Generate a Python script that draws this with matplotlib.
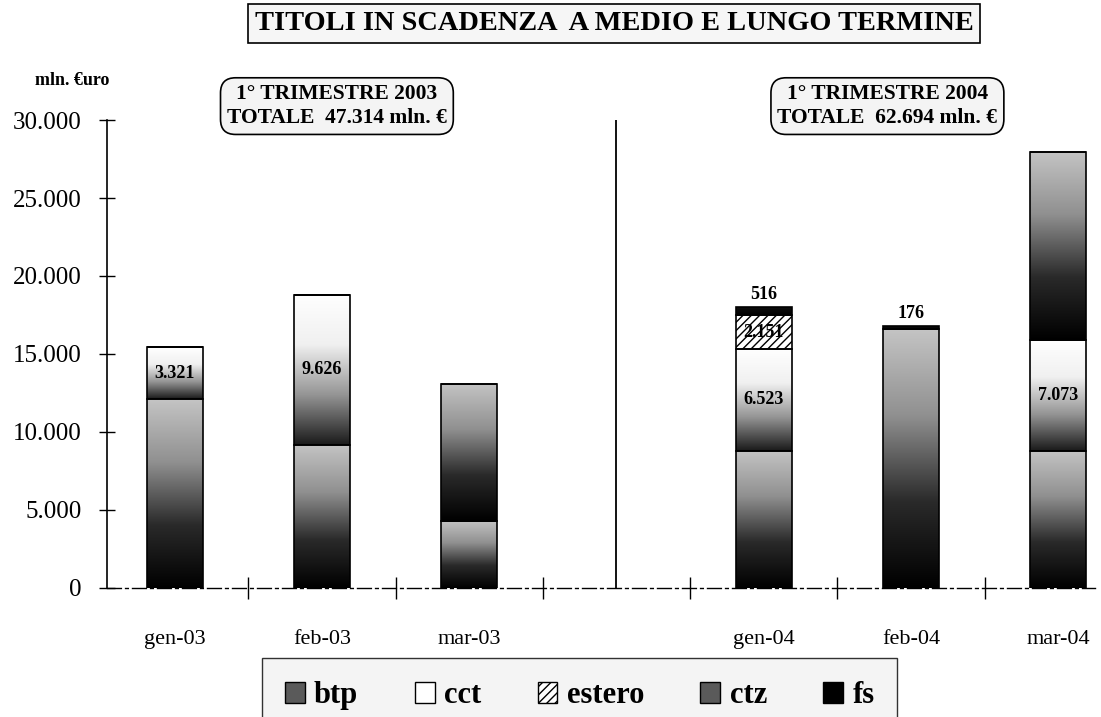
import numpy as np
import matplotlib
matplotlib.use("Agg")
import matplotlib.pyplot as plt
from matplotlib.colors import LinearSegmentedColormap
from matplotlib.patches import Patch

plt.rcParams["font.family"] = ["Liberation Serif", "DejaVu Serif"]

# dati (mln. euro)
pos = [0, 1, 2, 4, 5, 6]
mesi_bar = ["gen-03", "feb-03", "mar-03", "gen-04", "feb-04", "mar-04"]
btp = [12100, 9180, 4300, 8800, 16600, 8800]
cct = [3321, 9626, 0, 6523, 0, 7073]
estero = [0, 0, 0, 2151, 0, 0]
ctz = [0, 0, 8787, 0, 0, 12055]
fs = [0, 0, 0, 516, 176, 0]

serie = ["btp", "cct", "estero", "ctz", "fs"]
valori = [btp, cct, estero, ctz, fs]
etichette = {"cct": [0, 1, 3, 5], "estero": [3]}   # etichette dentro la barra
sopra = {"fs": [3, 4]}                               # etichette sopra la barra

totale_03 = "47.314"
totale_04 = "62.694"

cmap_btp = LinearSegmentedColormap.from_list("btp", ["#c4c4c4", "#909090", "#2a2a2a", "#000000"])
cmap_cct = LinearSegmentedColormap.from_list("cct", ["#ffffff", "#f0f0f0", "#959595", "#1a1a1a"])
cmap_fs = LinearSegmentedColormap.from_list("fs", ["#101010", "#000000"])
mappe = {"btp": cmap_btp, "cct": cmap_cct, "ctz": cmap_btp, "fs": cmap_fs}


def fmt(v):
    return f"{v:,}".replace(",", ".")


fig = plt.figure(figsize=(11.01, 7.17), dpi=100)
ax = fig.add_axes([0.0972, 0.180, 0.8974, 0.6526])

w = 0.38
grad = np.linspace(0, 1, 256).reshape(-1, 1)
base = np.zeros(len(pos))
for nome, vals in zip(serie, valori):
    vals = np.array(vals, dtype=float)
    if nome == "estero":
        bars = ax.bar(pos, vals, w, bottom=base, color="white", edgecolor="black",
                      hatch="////", linewidth=1.2, zorder=2)
    else:
        bars = ax.bar(pos, vals, w, bottom=base, color="none", edgecolor="black",
                      linewidth=1.2, zorder=3)
        for b, v in zip(bars, vals):
            if v <= 0:
                continue
            x0, y0 = b.get_x(), b.get_y()
            im = ax.imshow(grad, cmap=mappe[nome], aspect="auto", zorder=2,
                           extent=[x0, x0 + b.get_width(), y0, y0 + b.get_height()],
                           interpolation="bicubic")
            im.set_clip_path(b)
    for i in etichette.get(nome, []):
        ax.text(pos[i], base[i] + vals[i] / 2, fmt(int(vals[i])), ha="center", va="center",
                fontsize=13, fontweight="bold", zorder=5)
    for i in sopra.get(nome, []):
        ax.text(pos[i], base[i] + vals[i] + 250, fmt(int(vals[i])), ha="center", va="bottom",
                fontsize=13, fontweight="bold", zorder=5)
    base = base + vals

ax.set_xlim(-0.46, 6.25)
ax.set_ylim(0, 30000)

# separatore tra i due trimestri
ax.plot([3, 3], [0, 30000], color="black", lw=1.3, zorder=1)

ax.set_yticks(np.arange(0, 30001, 5000))
ax.set_yticklabels([fmt(v) for v in range(0, 30001, 5000)], fontsize=18)
ax.tick_params(axis="y", direction="inout", length=11, width=1, pad=13)

ax.set_xticks(pos)
ax.set_xticklabels(mesi_bar, fontsize=16)
ax.set_xticks([0.5, 1.5, 2.5, 3.5, 4.5, 5.5], minor=True)
ax.tick_params(axis="x", which="major", length=0, pad=30)
ax.tick_params(axis="x", which="minor", direction="inout", length=16, width=1)

for s in ["top", "right"]:
    ax.spines[s].set_visible(False)
ax.spines["left"].set_linewidth(1.2)
ax.spines["bottom"].set_linestyle((0, (10, 3, 2, 3)))
ax.spines["bottom"].set_linewidth(1)

# titolo
fig.text(0.5577, 0.967, "TITOLI IN SCADENZA  A MEDIO E LUNGO TERMINE", ha="center", va="center",
         fontsize=20.4, fontweight="bold",
         bbox=dict(boxstyle="square,pad=0.25", fc="#f6f6f6", ec="black", lw=1.2))
fig.text(0.066, 0.888, "mln. €uro", ha="center", va="center", fontsize=13, fontweight="bold")

box = dict(boxstyle="round,pad=0.3,rounding_size=0.7", fc="#f4f4f4", ec="black", lw=1.2)
fig.text(0.306, 0.852, "1° TRIMESTRE 2003\nTOTALE  " + totale_03 + " mln. €", ha="center",
         va="center", fontsize=15.5, fontweight="bold", linespacing=1.25, bbox=box)
fig.text(0.806, 0.852, "1° TRIMESTRE 2004\nTOTALE  " + totale_04 + " mln. €", ha="center",
         va="center", fontsize=15.5, fontweight="bold", linespacing=1.25, bbox=box)

# legenda
handles = [Patch(fc="#5a5a5a", ec="black"), Patch(fc="white", ec="black"),
           Patch(fc="white", ec="black", hatch="////"), Patch(fc="#5a5a5a", ec="black"),
           Patch(fc="black", ec="black")]
leg = fig.legend(handles, serie, ncol=5, loc="upper left", bbox_to_anchor=(0.238, 0.082),
                 frameon=True, fancybox=False, edgecolor="black", facecolor="#f2f2f2",
                 prop={"size": 22, "weight": "bold"}, handlelength=0.65, handleheight=0.65,
                 handletextpad=0.3, columnspacing=1.85, borderaxespad=0, borderpad=0.75)
leg.get_frame().set_linewidth(1)

fig.savefig("out.png", dpi=100)
